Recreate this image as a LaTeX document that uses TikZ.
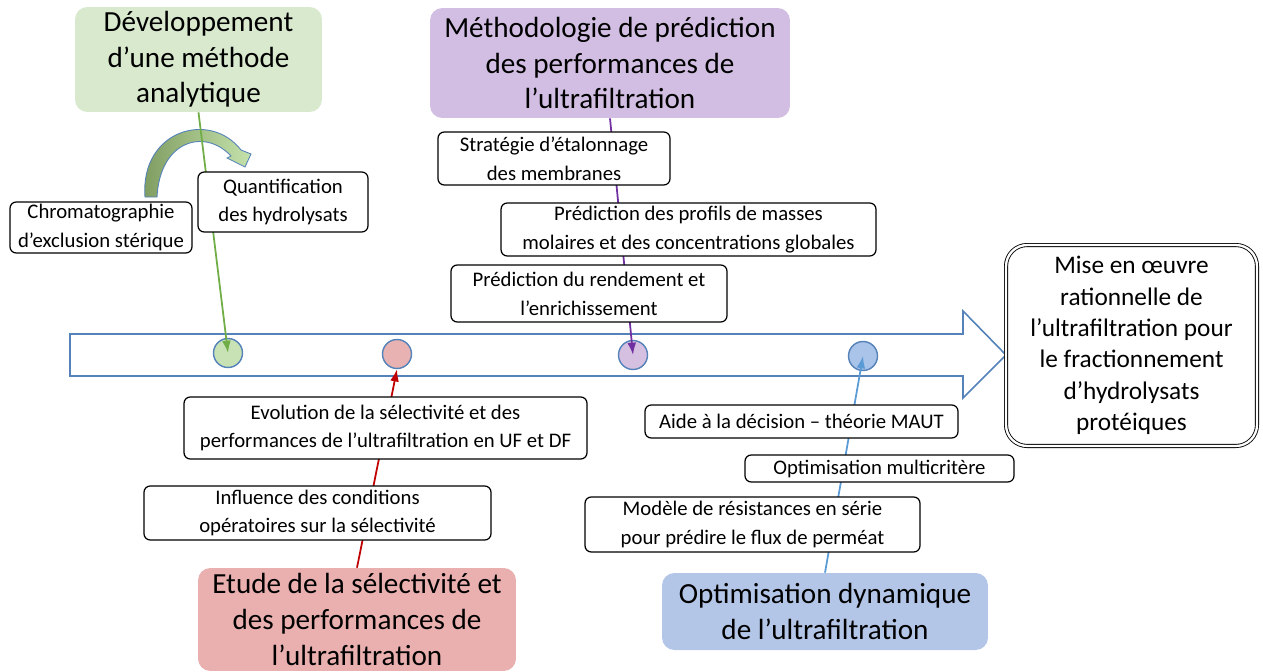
\documentclass[tikz,border=0pt]{standalone}
\usepackage{fontspec}
\setmainfont{Carlito}
\usetikzlibrary{arrows.meta}

\definecolor{devgreen}{RGB}{216,233,206}
\definecolor{metpurple}{RGB}{210,190,226}
\definecolor{etured}{RGB}{234,176,176}
\definecolor{optblue}{RGB}{180,198,231}
\definecolor{dotgreen}{RGB}{200,226,182}
\definecolor{dotred}{RGB}{232,178,178}
\definecolor{dotpurple}{RGB}{214,192,226}
\definecolor{dotblue}{RGB}{170,195,232}
\definecolor{linegreen}{RGB}{112,173,71}
\definecolor{linepurple}{RGB}{112,48,160}
\definecolor{linered}{RGB}{192,0,0}
\definecolor{lineblue}{RGB}{91,155,213}
\definecolor{arrowblue}{RGB}{84,130,185}
\definecolor{benddark}{RGB}{125,155,95}
\definecolor{bendlight}{RGB}{198,226,172}

\begin{document}
\begin{tikzpicture}[x=0.02cm, y=-0.02cm,
	head/.style={rounded corners=7pt, align=center, inner sep=0pt,
		font=\fontsize{16.6}{20.3}\selectfont},
	stage/.style={draw, line width=0.7pt, rounded corners=3.5pt, fill=white,
		align=center, inner sep=0pt, font=\fontsize{11.8}{16.4}\selectfont},
	milestone/.style={circle, draw=arrowblue, line width=0.8pt,
		minimum size=0.58cm, inner sep=0pt},
	link/.style={line width=1pt, -{Latex[length=7pt, width=5pt]}}]

% frame %{{{2

	\useasboundingbox (0,0) rectangle (1263,672);

% main headings %{{{2

	\node[head, fill=devgreen, minimum width=4.94cm, minimum height=2.10cm]
		(dev) at (198.5,59.5) {Développement\\d’une méthode\\analytique};
	\node[head, fill=metpurple, minimum width=7.2cm, minimum height=2.2cm]
		(met) at (610,63) {Méthodologie de prédiction\\des performances de\\l’ultrafiltration};
	\node[head, fill=etured, minimum width=6.36cm, minimum height=2.06cm]
		(etu) at (357,619.5) {Etude de la sélectivité et\\des performances de\\l’ultrafiltration};
	\node[head, fill=optblue, minimum width=6.52cm, minimum height=1.54cm]
		(opt) at (825,611.5) {Optimisation dynamique\\de l’ultrafiltration};

% timeline arrow %{{{2

	\draw[arrowblue, line width=0.9pt, fill=white]
		(70,334) -- (963,334) -- (963,311) -- (1006,355)
		-- (963,398) -- (963,376) -- (70,376) -- cycle;

	\node[double, double distance=1.3pt, line width=0.5pt, draw, rounded corners=12pt,
		align=center, inner sep=0pt, minimum width=5.02cm, minimum height=4.02cm,
		font=\fontsize{14.4}{17.8}\selectfont]
		(fin) at (1131.5,345.5) {Mise en œuvre\\rationnelle de\\l’ultrafiltration pour\\le fractionnement\\d’hydrolysats\\protéiques};

% milestones %{{{2

	\node[milestone, fill=dotgreen] (cg) at (228,353) {};
	\node[milestone, fill=dotred] (cr) at (397,354) {};
	\node[milestone, fill=dotpurple] (cp) at (633,355) {};
	\node[milestone, fill=dotblue] (cb) at (863,356) {};

% bent arrow %{{{2

	\draw[arrowblue, line width=0.5pt, left color=benddark, right color=bendlight]
		(145,197) .. controls (140,130) and (210,110) .. (241,150)
		-- (251,154) -- (245,167) -- (227,158) -- (231,156)
		.. controls (205,128) and (160,140) .. (157,197) -- cycle;

% links %{{{2

	\draw[link, linegreen] (dev.south) -- (cg.center);
	\draw[link, linepurple] (met.south) -- (cp.center);
	\draw[link, linered] (etu.north) -- (cr.south);
	\draw[link, lineblue] (opt.north) -- (cb.center);

% stages %{{{2

	\node[stage, minimum width=3.64cm, minimum height=1.02cm]
		(chr) at (101,227.5) {Chromatographie\\d’exclusion stérique};
	\node[stage, minimum width=3.4cm, minimum height=1.2cm]
		(qua) at (283,202) {Quantification\\des hydrolysats};

	\node[stage, minimum width=4.64cm, minimum height=1.06cm]
		(str) at (554,158.5) {Stratégie d’étalonnage\\des membranes};
	\node[stage, minimum width=7.5cm, minimum height=1.06cm]
		(pro) at (688.5,229.5) {Prédiction des profils de masses\\molaires et des concentrations globales};
	\node[stage, minimum width=5.52cm, minimum height=1.14cm]
		(ren) at (589,293.5) {Prédiction du rendement et\\l’enrichissement};

	\node[stage, minimum width=8.06cm, minimum height=1.24cm]
		(evo) at (385.5,428) {Evolution de la sélectivité et des\\performances de l’ultrafiltration en UF et DF};
	\node[stage, minimum width=6.94cm, minimum height=1.08cm]
		(inf) at (317.5,513) {Influence des conditions\\opératoires sur la sélectivité};

	\node[stage, minimum width=6.26cm, minimum height=0.66cm]
		(aid) at (801.5,421.5) {Aide à la décision – théorie MAUT};
	\node[stage, minimum width=5.38cm, minimum height=0.54cm]
		(mul) at (879.5,468.5) {Optimisation multicritère};
	\node[stage, minimum width=6.7cm, minimum height=1.1cm]
		(mod) at (752.5,524.5) {Modèle de résistances en série\\pour prédire le flux de perméat};

% closing %{{{2

\end{tikzpicture}
\end{document}
